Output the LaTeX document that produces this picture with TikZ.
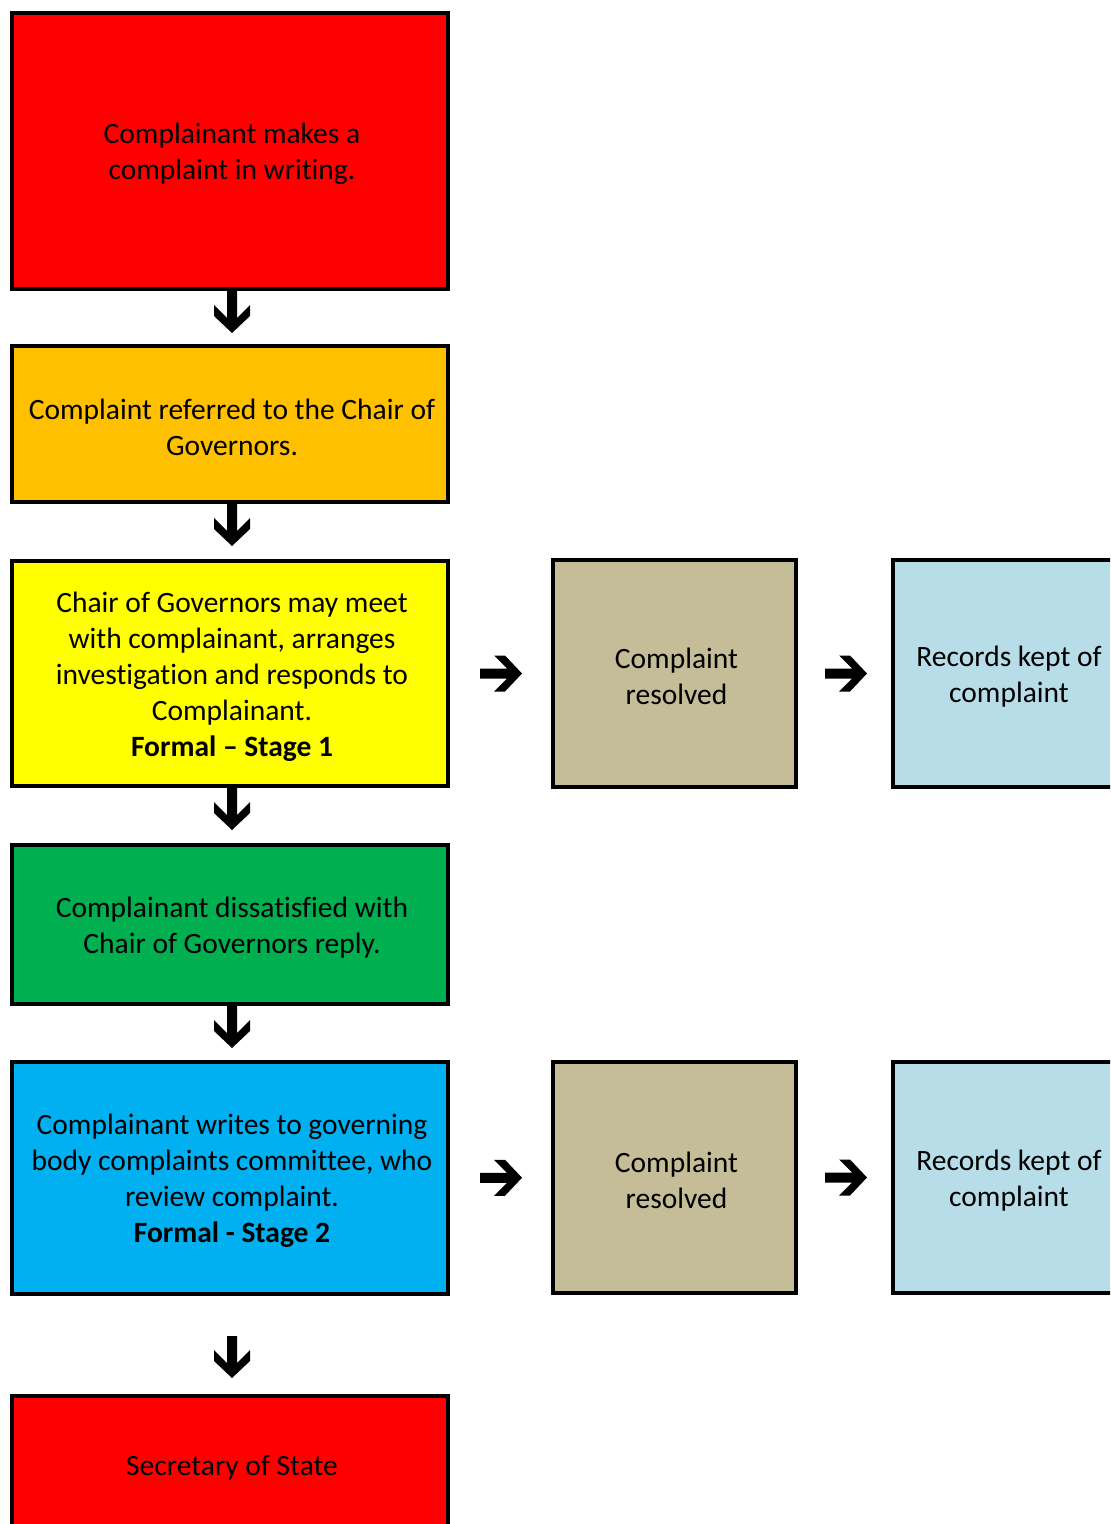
\documentclass[tikz,border=0pt]{standalone}
\usepackage{fontspec}
\setmainfont{Carlito}[Ligatures=NoCommon]
\usetikzlibrary{calc}
\definecolor{cred}{HTML}{FF0000}
\definecolor{corange}{HTML}{FFC000}
\definecolor{cyellow}{HTML}{FFFF00}
\definecolor{cgreen}{HTML}{00B050}
\definecolor{cblue}{HTML}{00B0F0}
\definecolor{ctan}{HTML}{C4BD97}
\definecolor{clight}{HTML}{B7DEE8}
\tikzset{
  box/.style={draw=black, line width=2pt, rectangle, inner sep=0pt},
  mainbox/.style={box, minimum width=218pt},
  sidebox/.style={box, minimum width=121.5pt},
  recbox/.style={box, minimum width=116pt},
  txt/.style={align=center, inner sep=0pt, text=black,
    font=\fontsize{14.75}{18}\selectfont},
  bigarrow/.pic={
    \fill[black] (0,-5) -- (27,-5) -- (14,-18) -- (25,-18) -- (42,0)
      -- (25,18) -- (14,18) -- (27,5) -- (0,5) -- cycle;
  }
}
\begin{document}
\begin{tikzpicture}[x=0.5pt,y=0.5pt]
\useasboundingbox (0,0) rectangle (1110,-1524);
\clip (0,0) rectangle (1110,-1524);
\fill[white] (0,0) rectangle (1110,-1524);

\node[mainbox, fill=cred, minimum height=138pt] (b1) at (230,-151) {};
\node[mainbox, fill=corange, minimum height=78pt] (b2) at (230,-424) {};
\node[mainbox, fill=cyellow, minimum height=112.5pt] (b3) at (230,-673.5) {};
\node[mainbox, fill=cgreen, minimum height=79.5pt] (b4) at (230,-924.5) {};
\node[mainbox, fill=cblue, minimum height=116pt] (b5) at (230,-1178) {};
\node[mainbox, fill=cred, minimum height=69pt] (b6) at (230,-1465) {};

\node[sidebox, fill=ctan, minimum height=113.5pt] (t1) at (674.5,-673.5) {};
\node[recbox, fill=clight, minimum height=113.5pt] (r1) at (1009,-673.5) {};
\node[sidebox, fill=ctan, minimum height=115.5pt] (t2) at (674.5,-1177.5) {};
\node[recbox, fill=clight, minimum height=115.5pt] (r2) at (1009,-1177.5) {};

% texts
\node[txt] (b1t) at ($(b1)+(2,-3)$) {Complainant makes a\\complaint in writing.};
\node[txt] (b2t) at ($(b2)+(2,-3)$) {Complaint referred to the Chair of\\Governors.};
\node[txt] (b3t) at ($(b3)+(2,-3)$) {Chair of Governors may meet\\with complainant, arranges\\investigation and responds to\\Complainant.\\\textbf{Formal – Stage 1}};
\node[txt] (b4t) at ($(b4)+(2,-3)$) {Complainant dissatisfied with\\Chair of Governors reply.};
\node[txt] (b5t) at ($(b5)+(2,-3)$) {Complainant writes to governing\\body complaints committee, who\\review complaint.\\\textbf{Formal - Stage 2}};
\node[txt] (b6t) at ($(b6)+(2,-3)$) {Secretary of State};
\node[txt] (t1t) at ($(t1)+(2,-2.5)$) {Complaint\\resolved};
\node[txt] (r1t) at ($(r1)+(0,-3.5)$) {Records kept of\\complaint};
\node[txt] (t2t) at ($(t2)+(2,-2.5)$) {Complaint\\resolved};
\node[txt] (r2t) at ($(r2)+(0,-3.5)$) {Records kept of\\complaint};

% down arrows
\pic[rotate=-90] at ($(b1.south)+(2,0)$) {bigarrow};
\pic[rotate=-90] at ($(b2.south)+(2,0)$) {bigarrow};
\pic[rotate=-90] at ($(b3.south)+(2,0)$) {bigarrow};
\pic[rotate=-90] at ($(b4.south)+(2,0)$) {bigarrow};
\pic[rotate=-90] at ($(b6.north)+(2,58)$) {bigarrow};

% right arrows
\pic at ($(b3.east)!0.5!(t1.west)+(-20.5,0)$) {bigarrow};
\pic at ($(t1.east)!0.5!(r1.west)+(-19.5,0)$) {bigarrow};
\pic at ($(b5.east)!0.5!(t2.west)+(-20.5,0)$) {bigarrow};
\pic at ($(t2.east)!0.5!(r2.west)+(-19.5,0)$) {bigarrow};
\end{tikzpicture}
\end{document}
